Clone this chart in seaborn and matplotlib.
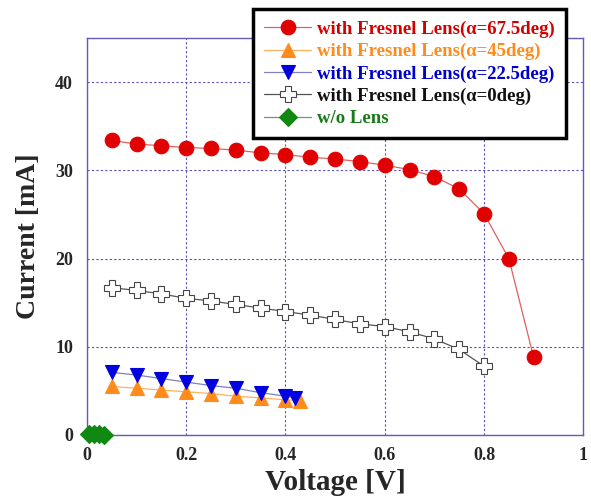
import matplotlib
matplotlib.use("Agg")
import matplotlib.pyplot as plt
import seaborn as sns
import pandas as pd

sns.set_theme(style="white")
plt.rcParams['font.family'] = ['Liberation Serif', 'DejaVu Serif']

v_675 = [0.05, 0.10, 0.15, 0.20, 0.25, 0.30, 0.35, 0.40, 0.45, 0.50, 0.55, 0.60, 0.65, 0.70, 0.75, 0.80, 0.85, 0.90]
i_675 = [33.4, 33.0, 32.8, 32.6, 32.5, 32.3, 32.0, 31.8, 31.5, 31.3, 31.0, 30.6, 30.1, 29.3, 27.9, 25.1, 20.0, 8.8]

v_45 = [0.05, 0.10, 0.15, 0.20, 0.25, 0.30, 0.35, 0.40, 0.43]
i_45 = [5.5, 5.3, 5.1, 4.9, 4.7, 4.4, 4.2, 4.0, 3.9]

v_225 = [0.05, 0.10, 0.15, 0.20, 0.25, 0.30, 0.35, 0.40, 0.42]
i_225 = [7.1, 6.8, 6.4, 6.0, 5.6, 5.3, 4.8, 4.4, 4.2]

v_0 = [0.05, 0.10, 0.15, 0.20, 0.25, 0.30, 0.35, 0.40, 0.45, 0.50, 0.55, 0.60, 0.65, 0.70, 0.75, 0.80]
i_0 = [16.7, 16.4, 16.0, 15.5, 15.2, 14.8, 14.4, 14.0, 13.6, 13.1, 12.6, 12.3, 11.7, 10.9, 9.7, 7.8]

v_none = [0.005, 0.015, 0.025, 0.035]
i_none = [0.1, 0.1, 0.1, 0.05]

labels = ["with Fresnel Lens(α=67.5deg)", "with Fresnel Lens(α=45deg)",
          "with Fresnel Lens(α=22.5deg)", "with Fresnel Lens(α=0deg)", "w/o Lens"]

series = [(v_675, i_675), (v_45, i_45), (v_225, i_225), (v_0, i_0), (v_none, i_none)]
colors = ["#e00000", "#ff8c1a", "#0000e0", "#555555", "#118811"]
text_colors = ["#d40000", "#ff8c1a", "#0000cc", "#111111", "#1a7a1a"]
line_colors = ["#e06060", "#ffb060", "#8080c0", "#555555", "#60a060"]
markers = ["o", "^", "v", "P", "D"]
msizes = [10.5, 10.5, 10.5, 11.5, 9]

fig = plt.figure(figsize=(5.91, 4.96), dpi=100)
ax = fig.add_axes([0.147, 0.123, 0.84, 0.8])

for (xv, yv), lab, c, lc, m, ms in zip(series, labels, colors, line_colors, markers, msizes):
    df = pd.DataFrame({"V": xv, "I": yv})
    face = "white" if m == "P" else c
    edge = "#444444" if m == "P" else c
    sns.lineplot(data=df, x="V", y="I", ax=ax, color=lc, linewidth=0.9,
                 marker=m, markersize=ms, markerfacecolor=face, markeredgecolor=edge,
                 markeredgewidth=0.8, label=lab, zorder=3, clip_on=False)

ax.set_xlim(0, 1)
ax.set_ylim(0, 45)
ax.set_xticks([0, 0.2, 0.4, 0.6, 0.8, 1])
ax.set_xticklabels(["0", "0.2", "0.4", "0.6", "0.8", "1"])
ax.set_yticks([0, 10, 20, 30, 40])
ax.grid(True, color="#5a50c0", linestyle=(0, (2, 2)), linewidth=0.8)
for sp in ax.spines.values():
    sp.set_color("#6a5ab8")
    sp.set_linewidth(1.0)
ax.tick_params(length=0, labelsize=13)
ax.tick_params(axis="x", pad=9)
ax.tick_params(axis="y", pad=10)
for t in ax.get_xticklabels() + ax.get_yticklabels():
    t.set_fontweight("bold")
ax.set_xlabel("Voltage [V]", fontsize=21, fontweight="bold", labelpad=3)
ax.set_ylabel("Current [mA]", fontsize=20, fontweight="bold", labelpad=10)

leg = ax.legend(loc="upper left", bbox_to_anchor=(0.335, 1.073), borderaxespad=0,
                frameon=True, fancybox=False, framealpha=1, edgecolor="black",
                prop={"weight": "bold", "size": 13.5}, labelcolor=text_colors,
                handlelength=2.5, borderpad=0.6, labelspacing=0.27, handletextpad=0.3)
leg.get_frame().set_linewidth(2.5)
leg.set_zorder(5)

fig.savefig("out.png", dpi=100)
